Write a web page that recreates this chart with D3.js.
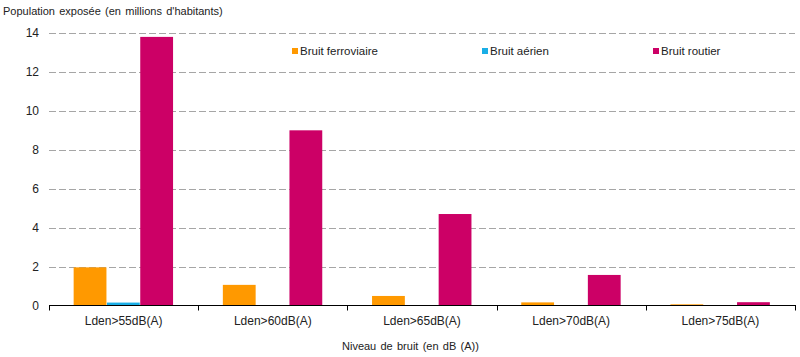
<!DOCTYPE html>
<html>
<head>
<meta charset="utf-8">
<script src="https://cdn.jsdelivr.net/npm/d3@7"></script>
<style>
  html, body { margin: 0; padding: 0; background: #fff; }
  svg { display: block; font-family: "Liberation Sans", Arial, sans-serif; }
</style>
</head>
<body>
<svg id="chart" width="800" height="357"></svg>
<script>
const categories = ["Lden>55dB(A)", "Lden>60dB(A)", "Lden>65dB(A)", "Lden>70dB(A)", "Lden>75dB(A)"];
const seriesNames = ["Bruit ferroviaire", "Bruit aérien", "Bruit routier"];
const ferroviaire = [1.96, 1.06, 0.49, 0.16, 0.06];
const aerien = [0.15, 0, 0, 0, 0];
const routier = [13.8, 9.0, 4.7, 1.57, 0.17];
const colors = ["#FF9900", "#1AAEE6", "#CC0066"];
const yTicks = [0, 2, 4, 6, 8, 10, 12, 14];
const yTitle = "Population exposée (en millions d'habitants)";
const xTitle = "Niveau de bruit (en dB (A))";

(function () {
const seriesValues = [ferroviaire, aerien, routier];
const svg = d3.select("#chart");

const mLeft = 49, mRight = 795, mTop = 33, mBottom = 305.5;
const x0 = d3.scaleBand().domain(categories).range([mLeft, mRight]).paddingInner(0).paddingOuter(0);
const x1 = d3.scaleBand().domain(seriesNames).range([0, x0.bandwidth()]).paddingInner(0).paddingOuter(0.74);
const y = d3.scaleLinear().domain([0, 14]).range([mBottom, mTop]);

// gridlines
svg.append("g").selectAll("line").data(yTicks.filter(d => d > 0)).join("line")
  .attr("x1", mLeft).attr("x2", mRight)
  .attr("y1", d => Math.round(y(d)) + 0.5).attr("y2", d => Math.round(y(d)) + 0.5)
  .attr("stroke", "#a6a6a6").attr("stroke-width", 1).attr("stroke-dasharray", "7,3");

// y labels
svg.append("g").selectAll("text").data(yTicks).join("text")
  .attr("x", 39).attr("y", d => y(d)).attr("dy", "0.35em")
  .attr("text-anchor", "end").attr("font-size", 12).attr("fill", "#222")
  .text(d => d);

// bars
const groups = svg.append("g").selectAll("g").data(categories).join("g")
  .attr("transform", d => `translate(${x0(d)},0)`);
groups.selectAll("rect").data((d, i) => seriesNames.map((s, j) => ({ s, j, v: seriesValues[j][i] })))
  .join("rect")
  .attr("x", d => x1(d.s)).attr("width", x1.bandwidth() - 0.5)
  .attr("y", d => y(d.v)).attr("height", d => y(0) - y(d.v))
  .attr("fill", d => colors[d.j]);

// x axis
const xAxis = svg.append("g");
xAxis.append("line").attr("x1", mLeft).attr("x2", mRight + 1)
  .attr("y1", 305.5).attr("y2", 305.5).attr("stroke", "#000").attr("stroke-width", 1);
const boundaries = categories.map(c => x0(c)).concat([mRight]);
xAxis.selectAll("line.tick").data(boundaries).join("line").attr("class", "tick")
  .attr("x1", d => Math.round(d) + 0.5).attr("x2", d => Math.round(d) + 0.5)
  .attr("y1", 305.5).attr("y2", 310.5).attr("stroke", "#000");
xAxis.selectAll("text").data(categories).join("text")
  .attr("x", d => x0(d) + x0.bandwidth() / 2).attr("y", 325)
  .attr("text-anchor", "middle").attr("font-size", 12).attr("fill", "#222")
  .text(d => d);

// titles
svg.append("text").attr("x", 3).attr("y", 15).attr("font-size", 11).attr("fill", "#222")
  .attr("word-spacing", "1.2px").text(yTitle);
svg.append("text").attr("x", 342).attr("y", 350).attr("font-size", 11).attr("fill", "#222")
  .attr("word-spacing", "1.2px").text(xTitle);

// legend
const legendX = [292, 482, 653];
const legend = svg.append("g").selectAll("g").data(seriesNames).join("g")
  .attr("transform", (d, i) => `translate(${legendX[i]},0)`);
legend.append("rect").attr("x", 0).attr("y", 48).attr("width", 6).attr("height", 6)
  .attr("fill", (d, i) => colors[i]);
legend.append("text").attr("x", 8).attr("y", 55).attr("font-size", 11.5).attr("fill", "#222")
  .text(d => d);
})();
</script>
</body>
</html>
